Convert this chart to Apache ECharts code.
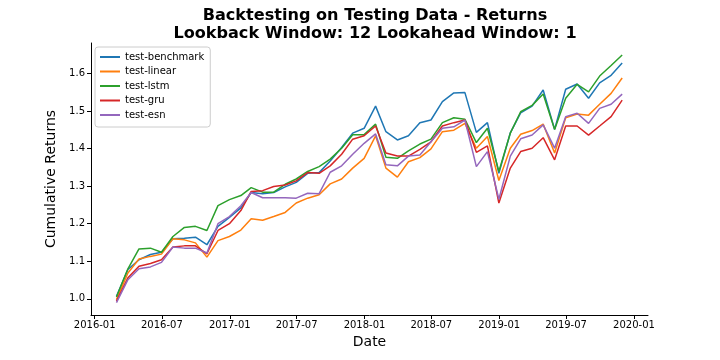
<!DOCTYPE html>
<html lang="en">
<head>
    <meta charset="UTF-8">
    <title>Backtesting on Testing Data - Returns</title>
</head>
<body style="margin: 0">
<div id="container" style="height: 360px; width: 720px;"></div>
<script type="text/javascript" src="https://cdn.jsdelivr.net/npm/echarts@6/dist/echarts.min.js"></script>
<script type="text/javascript">
    // month-end dates of the test period
    const dates = [
        '2016-02-29', '2016-03-31', '2016-04-30', '2016-05-31', '2016-06-30', '2016-07-31',
        '2016-08-31', '2016-09-30', '2016-10-31', '2016-11-30', '2016-12-31',
        '2017-01-31', '2017-02-28', '2017-03-31', '2017-04-30', '2017-05-31', '2017-06-30',
        '2017-07-31', '2017-08-31', '2017-09-30', '2017-10-31', '2017-11-30', '2017-12-31',
        '2018-01-31', '2018-02-28', '2018-03-31', '2018-04-30', '2018-05-31', '2018-06-30',
        '2018-07-31', '2018-08-31', '2018-09-30', '2018-10-31', '2018-11-30', '2018-12-31',
        '2019-01-31', '2019-02-28', '2019-03-31', '2019-04-30', '2019-05-31', '2019-06-30',
        '2019-07-31', '2019-08-31', '2019-09-30', '2019-10-31', '2019-11-30'
    ];
    const benchmark = [1.007, 1.078, 1.104, 1.118, 1.124, 1.160, 1.161, 1.164, 1.144, 1.193, 1.217,
        1.242, 1.283, 1.280, 1.283, 1.298, 1.310, 1.334, 1.336, 1.367, 1.403, 1.441, 1.454,
        1.513, 1.445, 1.423, 1.434, 1.469, 1.476, 1.525, 1.548, 1.549, 1.443, 1.469, 1.334,
        1.442, 1.495, 1.513, 1.556, 1.451, 1.558, 1.572, 1.534, 1.575, 1.595, 1.628];
    const linear = [0.998, 1.069, 1.106, 1.113, 1.119, 1.160, 1.157, 1.149, 1.111, 1.155, 1.166,
        1.183, 1.213, 1.209, 1.219, 1.230, 1.255, 1.268, 1.277, 1.306, 1.319, 1.348, 1.374,
        1.434, 1.348, 1.324, 1.365, 1.376, 1.399, 1.445, 1.449, 1.467, 1.401, 1.432, 1.315,
        1.401, 1.438, 1.448, 1.465, 1.388, 1.482, 1.492, 1.489, 1.518, 1.547, 1.588];
    const lstm = [1.005, 1.080, 1.133, 1.135, 1.124, 1.166, 1.190, 1.193, 1.182, 1.248, 1.264,
        1.275, 1.296, 1.284, 1.284, 1.305, 1.319, 1.339, 1.352, 1.372, 1.401, 1.437, 1.437,
        1.465, 1.377, 1.374, 1.394, 1.412, 1.425, 1.469, 1.482, 1.478, 1.416, 1.454, 1.339,
        1.441, 1.498, 1.515, 1.545, 1.451, 1.534, 1.571, 1.551, 1.593, 1.621, 1.649];
    const gru = [0.994, 1.056, 1.087, 1.094, 1.104, 1.138, 1.141, 1.141, 1.120, 1.182, 1.200,
        1.235, 1.286, 1.288, 1.299, 1.303, 1.314, 1.336, 1.334, 1.354, 1.385, 1.425, 1.434,
        1.460, 1.388, 1.380, 1.380, 1.398, 1.418, 1.460, 1.469, 1.476, 1.390, 1.407, 1.255,
        1.348, 1.392, 1.401, 1.429, 1.370, 1.460, 1.460, 1.436, 1.460, 1.485, 1.529];
    const esn = [0.990, 1.051, 1.080, 1.085, 1.097, 1.138, 1.135, 1.135, 1.122, 1.200, 1.219,
        1.248, 1.283, 1.269, 1.269, 1.269, 1.268, 1.281, 1.280, 1.337, 1.354, 1.385, 1.414,
        1.439, 1.357, 1.354, 1.380, 1.383, 1.418, 1.454, 1.458, 1.476, 1.352, 1.392, 1.265,
        1.380, 1.426, 1.436, 1.463, 1.401, 1.485, 1.494, 1.467, 1.507, 1.518, 1.545];

    const seriesNames = ['test-benchmark', 'test-linear', 'test-lstm', 'test-gru', 'test-esn'];
    const seriesValues = [benchmark, linear, lstm, gru, esn];
    const colors = ['#1f77b4', '#ff7f0e', '#2ca02c', '#d62728', '#9467bd'];

    const xTicks = ['2016-01-01', '2016-07-01', '2017-01-01', '2017-07-01', '2018-01-01',
        '2018-07-01', '2019-01-01', '2019-07-01', '2020-01-01'];
    const yTicks = [1.0, 1.1, 1.2, 1.3, 1.4, 1.5, 1.6];

    const font = 'DejaVu Sans';
    const dom = document.getElementById('container');
    const myChart = echarts.init(dom, null, {renderer: 'canvas'});

    function toTime(d) {
        return +echarts.time.parse(d);
    }

    const xTickValues = xTicks.map(toTime);

    const option = {
        animation: false,
        color: colors,
        title: {
            text: 'Backtesting on Testing Data - Returns\nLookback Window: 12 Lookahead Window: 1',
            left: 370,
            top: 2,
            textAlign: 'center',
            textStyle: {
                fontFamily: font,
                fontWeight: 'bold',
                fontSize: 16.1,
                lineHeight: 18,
                color: '#000'
            }
        },
        legend: {
            orient: 'vertical',
            left: 95,
            top: 47,
            icon: 'rect',
            itemWidth: 20,
            itemHeight: 2,
            itemGap: 4.5,
            padding: [5, 6, 7, 5],
            borderColor: '#cccccc',
            borderWidth: 1,
            borderRadius: 3,
            backgroundColor: 'rgba(255,255,255,0.8)',
            textStyle: {
                fontFamily: font,
                fontSize: 10,
                color: '#000'
            },
            data: seriesNames
        },
        grid: {
            left: 91,
            right: 72,
            top: 43,
            bottom: 45,
            containLabel: false
        },
        xAxis: {
            type: 'value',
            min: toTime('2015-12-22'),
            max: toTime('2020-02-08'),
            name: 'Date',
            nameLocation: 'middle',
            nameGap: 20,
            nameTextStyle: {
                fontFamily: font,
                fontSize: 14,
                color: '#000'
            },
            axisLine: {
                lineStyle: {color: '#000', width: 1}
            },
            axisTick: {
                length: 4,
                lineStyle: {color: '#000'},
                customValues: xTickValues
            },
            axisLabel: {
                fontFamily: font,
                fontSize: 10,
                color: '#000',
                margin: 5,
                customValues: xTickValues,
                formatter: function (value) {
                    return echarts.time.format(value, '{yyyy}-{MM}', false);
                }
            },
            splitLine: {show: false}
        },
        yAxis: {
            type: 'value',
            min: 0.957,
            max: 1.681,
            name: 'Cumulative Returns',
            nameLocation: 'middle',
            nameGap: 26,
            nameTextStyle: {
                fontFamily: font,
                fontSize: 14,
                color: '#000'
            },
            axisLine: {
                show: true,
                lineStyle: {color: '#000', width: 1}
            },
            axisTick: {
                show: true,
                length: 4,
                lineStyle: {color: '#000'},
                customValues: yTicks
            },
            axisLabel: {
                fontFamily: font,
                fontSize: 10,
                color: '#000',
                margin: 6,
                customValues: yTicks,
                formatter: function (value) {
                    return value.toFixed(1);
                }
            },
            splitLine: {show: false}
        },
        series: seriesNames.map(function (name, k) {
            return {
                name: name,
                type: 'line',
                showSymbol: false,
                symbol: 'none',
                lineStyle: {width: 1.5},
                data: dates.map(function (d, i) {
                    return [toTime(d), seriesValues[k][i]];
                })
            };
        })
    };
    myChart.setOption(option);
</script>
</body>
</html>
